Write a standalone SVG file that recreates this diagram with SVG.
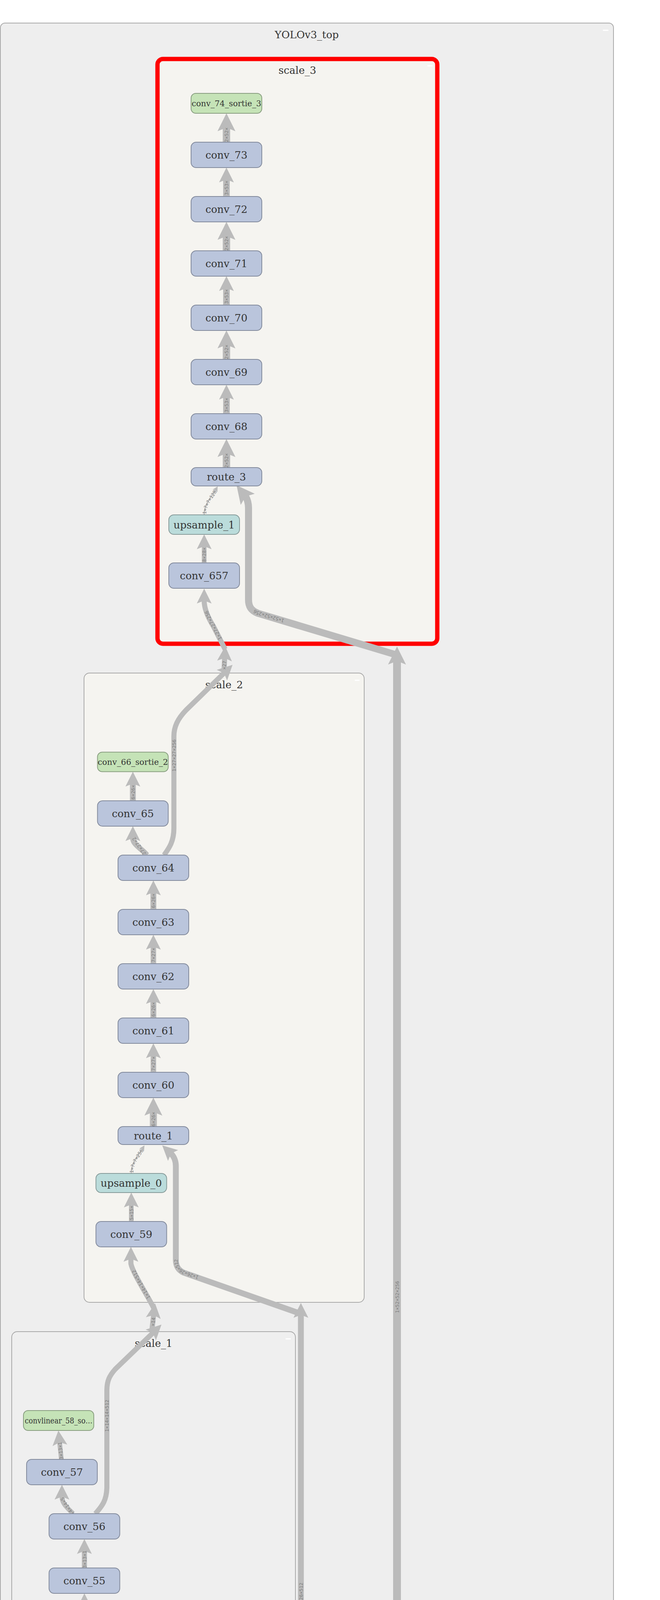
<svg xmlns="http://www.w3.org/2000/svg" width="1689" height="5225" viewBox="0 0 1689 5225">
<style>
.bg{fill:#ffffff}
.cl{fill:#eeeeee;stroke:#aaaaaa;stroke-width:2}
.s3{fill:#f5f4f0;stroke:#ff0000;stroke-width:11}
.s2{fill:#f5f4f0;stroke:#aaaaaa;stroke-width:2}
.s1{fill:#efefef;stroke:#aaaaaa;stroke-width:2}
.btn{fill:#ffffff}
.conv{fill:#bac5dc;stroke:#838b9d;stroke-width:2}
.out{fill:#c5e3b7;stroke:#899e80;stroke-width:2}
.up{fill:#bbdcdb;stroke:#879b9a;stroke-width:2}
.io{fill:#efefef;stroke:#aaaaaa;stroke-width:2}
.t{font-family:"DejaVu Serif","Liberation Serif",serif;font-size:26px;fill:#333333;text-anchor:middle}
.ts{font-family:"DejaVu Serif","Liberation Serif",serif;font-size:19.5px;fill:#333333;text-anchor:middle}
.e{fill:none;stroke:#bbbbbb;stroke-linecap:butt;stroke-linejoin:round}
.el{font-family:"DejaVu Sans Mono","Liberation Mono",monospace;font-size:12.4px;fill:#808080;text-anchor:middle;dominant-baseline:central}
</style>
<defs>
<marker id="aL" viewBox="0 0 10 10" refX="2" refY="5" markerWidth="46" markerHeight="46" markerUnits="userSpaceOnUse" orient="auto"><path d="M10,5 L0,0 L2,5 L0,10 Z" fill="#bbbbbb"/></marker>
<marker id="aM" viewBox="0 0 10 10" refX="2" refY="5" markerWidth="38" markerHeight="38" markerUnits="userSpaceOnUse" orient="auto"><path d="M10,5 L0,0 L2,5 L0,10 Z" fill="#bbbbbb"/></marker>
<marker id="aS" viewBox="0 0 10 10" refX="2" refY="5" markerWidth="14" markerHeight="14" markerUnits="userSpaceOnUse" orient="auto"><path d="M10,5 L0,0 L2,5 L0,10 Z" fill="#bbbbbb"/></marker>
</defs>
<rect class="bg" x="0" y="0" width="1689" height="5225"/>

<g id="YOLOv3_top">
<rect class="cl" x="1" y="59" width="1569" height="4730" rx="12"/>
<rect class="btn" x="1543" y="76" width="14" height="3"/>
<text class="t" x="785" y="98">YOLOv3_top</text>
</g>
<g id="scale_3">
<rect class="s3" x="403" y="151" width="716" height="1497" rx="14"/>
<rect class="btn" x="1094" y="167" width="13" height="3"/>
<text class="t" x="761" y="189">scale_3</text>
</g>
<g id="scale_2">
<rect class="s2" x="215" y="1723" width="717" height="1611" rx="14"/>
<rect class="btn" x="908" y="1740" width="12" height="3"/>
<text class="t" x="573.5" y="1762">scale_2</text>
</g>
<g id="scale_1">
<rect class="s1" x="30" y="3409" width="726" height="1228" rx="14"/>
<rect class="btn" x="731" y="3426" width="13" height="3"/>
<text class="t" x="393" y="3448">scale_1</text>
</g>

<g id="connectors">
<!-- scale_3 chain -->
<path class="e" stroke-width="19" marker-end="url(#aL)" d="M579.5,1197 V1160.8"/>
<path class="e" stroke-width="17" marker-end="url(#aM)" d="M579.5,1059 V1015.4"/>
<path class="e" stroke-width="19" marker-end="url(#aL)" d="M579.5,920 V882.8"/>
<path class="e" stroke-width="17" marker-end="url(#aM)" d="M579.5,781 V737.4"/>
<path class="e" stroke-width="19" marker-end="url(#aL)" d="M579.5,642 V604.8"/>
<path class="e" stroke-width="17" marker-end="url(#aM)" d="M579.5,503 V459.4"/>
<path class="e" stroke-width="19" marker-end="url(#aL)" d="M579.5,364 V326.8"/>
<path class="e" stroke-width="12" marker-end="url(#aM)" d="M522.5,1441 V1398.4"/>
<path id="pU1" class="e" stroke-width="3" marker-end="url(#aS)" d="M522.5,1318 C522.5,1290 541.5,1272 551.5,1254.7"/>
<!-- scale_2 chain -->
<path class="e" stroke-width="15" marker-end="url(#aM)" d="M340,2050 V2006"/>
<path class="e" stroke-width="14" marker-end="url(#aM)" d="M376,2189 C362,2172 340,2162 340,2145.4"/>
<path class="e" stroke-width="15" marker-end="url(#aM)" d="M392.5,2328 V2284.4"/>
<path class="e" stroke-width="14" marker-end="url(#aM)" d="M392.5,2467 V2423.4"/>
<path class="e" stroke-width="15" marker-end="url(#aM)" d="M392.5,2606 V2562.4"/>
<path class="e" stroke-width="14" marker-end="url(#aM)" d="M392.5,2745 V2701.4"/>
<path class="e" stroke-width="18" marker-end="url(#aL)" d="M392.5,2884 V2846.8"/>
<path class="e" stroke-width="12" marker-end="url(#aM)" d="M336,3127 V3083.4"/>
<path id="pU0" class="e" stroke-width="3" marker-end="url(#aS)" d="M336,3004 C336,2976 354,2958 363.9,2941.7"/>
<!-- scale_1 chain -->
<path class="e" stroke-width="12" marker-end="url(#aM)" d="M157,3736 L152.5,3692.4"/>
<path class="e" stroke-width="12" marker-end="url(#aM)" d="M187,3875 C170,3858 158.5,3848 158.5,3831.4"/>
<path class="e" stroke-width="13" marker-end="url(#aM)" d="M216,4014 V3970.4"/>
<path class="e" stroke-width="12" marker-end="url(#aM)" d="M216,4153 V4109.4"/>
<path class="e" stroke-width="13" marker-end="url(#aM)" d="M216,4292 V4248.4"/>
<path class="e" stroke-width="12" marker-end="url(#aM)" d="M216,4431 V4387.4"/>
<!-- scale_2 to scale_3 (conv_64 -> conv_657) -->
<path id="pE1" class="e" stroke-width="13" marker-end="url(#aM)" d="M420,2189 C432,2172 445,2155 445,2120 L445,1885 C445,1860 455,1840 476,1818 L573.3,1723.2"/>
<path class="e" stroke-width="13" marker-end="url(#aM)" d="M573,1722 L574.9,1684.6"/>
<path id="pE3" class="e" stroke-width="13" marker-end="url(#aM)" d="M576,1662 L546,1603 Q522.5,1565 522.5,1537.4"/>
<!-- scale_1 to scale_2 (conv_56 -> conv_59) -->
<path id="pD1" class="e" stroke-width="13" marker-end="url(#aM)" d="M244,3875 C262,3855 273.5,3840 273.5,3805 L273.5,3560 C273.5,3535 280,3522 295,3505 L391.3,3412.2"/>
<path class="e" stroke-width="13" marker-end="url(#aM)" d="M389,3402 L393.2,3366.7"/>
<path id="pD3" class="e" stroke-width="13" marker-end="url(#aM)" d="M395,3352 C380,3320 340,3260 335,3235 L335,3222.4"/>
<!-- image / Darknet -->
<path class="e" stroke-width="18" marker-end="url(#aL)" d="M784.5,5119 V5080.8"/>
<path class="e" stroke-width="20" marker-end="url(#aL)" d="M784.5,4864 V4823.8"/>
<!-- Darknet -> route_3 -->
<path id="pA1" class="e" stroke-width="20" marker-end="url(#aL)" d="M790,4818 L985,4717 C1008,4704 1016,4690 1016,4660 L1016,1692.1"/>
<path id="pA2" class="e" stroke-width="18" marker-end="url(#aL)" d="M1013,1676 L660,1570 C642,1563 636,1552 636,1535 L636,1300 C636,1290 633,1277 628.3,1271.1"/>
<!-- Darknet -> route_1 -->
<path id="pB1" class="e" stroke-width="15" marker-end="url(#aM)" d="M784.5,4818 L786,4777 C783,4720 770,4690 770,4640 L770,3366"/>
<path id="pB2" class="e" stroke-width="15" marker-end="url(#aM)" d="M766,3362 L470,3258 C455,3251 450,3240 450,3225 L450,2985 C450,2972 445,2960 437.4,2952.9"/>
<!-- Darknet -> conv_52 -->
<path id="pC1" class="e" stroke-width="15" marker-end="url(#aM)" d="M783,4820 C760,4815 720,4808 700,4802 L462,4736 C410,4718 391,4705 391,4685 L391,4669.4"/>
<path id="pC2" class="e" stroke-width="15" marker-end="url(#aM)" d="M390,4664 L245,4580 C222,4566 215,4555 215,4540 L215,4526.4"/>
</g>

<g id="edge-labels">
<text class="el" transform="translate(579.5,1179) rotate(-90)">2×52×</text>
<text class="el" transform="translate(579.5,1037) rotate(-90)">3×53×</text>
<text class="el" transform="translate(579.5,901) rotate(-90)">2×52×</text>
<text class="el" transform="translate(579.5,759) rotate(-90)">3×53×</text>
<text class="el" transform="translate(579.5,623) rotate(-90)">2×52×</text>
<text class="el" transform="translate(579.5,481) rotate(-90)">3×53×</text>
<text class="el" transform="translate(579.5,345) rotate(-90)">2×52×</text>
<text class="el" transform="translate(522.5,1420) rotate(-90)">8×28×</text>
<text class="el" transform="translate(340,2028) rotate(-90)">6×26×</text>
<text class="el" transform="translate(356,2166) rotate(-124)">27×27×2</text>
<text class="el" transform="translate(392.5,2306) rotate(-90)">6×26×</text>
<text class="el" transform="translate(392.5,2445) rotate(-90)">7×27×</text>
<text class="el" transform="translate(392.5,2584) rotate(-90)">6×26×</text>
<text class="el" transform="translate(392.5,2723) rotate(-90)">7×27×</text>
<text class="el" transform="translate(392.5,2865) rotate(-90)">6×26×</text>
<text class="el" transform="translate(336,3105) rotate(-90)">5×15×</text>
<text class="el" transform="translate(155,3714) rotate(-96)">3×13×1</text>
<text class="el" transform="translate(172,3856) rotate(-123)">14×14×5</text>
<text class="el" transform="translate(216,3992) rotate(-90)">3×13×1</text>
<text class="el" transform="translate(216,4131) rotate(-90)">4×14×</text>
<text class="el" transform="translate(216,4270) rotate(-90)">3×13×1</text>
<text class="el" transform="translate(216,4409) rotate(-90)">4×14×</text>
<text class="el" transform="translate(574,1703) rotate(-87)">×27</text>
<text class="el" transform="translate(392,3384) rotate(-84)">×14</text>
<text class="el" transform="translate(784.5,4845) rotate(-90)">tens</text>
<text class="el" transform="translate(784.5,5100) rotate(-90)">16×41</text>
<text class="el"><textPath href="#pU1" startOffset="50%">1×?×?×128</textPath></text>
<text class="el"><textPath href="#pU0" startOffset="50%">1×?×?×256</textPath></text>
<text class="el"><textPath href="#pE1" startOffset="50%">1×27×27×256</textPath></text>
<text class="el"><textPath href="#pE3" startOffset="50%">1×27×27×256</textPath></text>
<text class="el"><textPath href="#pD1" startOffset="50%">1×14×14×512</textPath></text>
<text class="el"><textPath href="#pD3" startOffset="50%">1×14×14×512</textPath></text>
<text class="el"><textPath href="#pA1" startOffset="50%">1×52×52×256</textPath></text>
<text class="el"><textPath href="#pA2" startOffset="50%">1×52×52×256</textPath></text>
<text class="el"><textPath href="#pB1" startOffset="50%">1×26×26×512</textPath></text>
<text class="el"><textPath href="#pB2" startOffset="50%">1×26×26×512</textPath></text>
<text class="el"><textPath href="#pC1" startOffset="50%">1×13×13×1024</textPath></text>
<text class="el"><textPath href="#pC2" startOffset="50%">1×13×13×1024</textPath></text>
</g>

<g id="conv_74_sortie_3"><rect class="out" x="489" y="239" width="181" height="51" rx="12"/><text class="ts" x="579.5" y="272" textLength="178" lengthAdjust="spacingAndGlyphs">conv_74_sortie_3</text></g>
<g id="conv_73"><rect class="conv" x="489" y="364" width="181" height="65" rx="13"/><text class="t" x="579.5" y="406">conv_73</text></g>
<g id="conv_72"><rect class="conv" x="489" y="503" width="181" height="65" rx="13"/><text class="t" x="579.5" y="545">conv_72</text></g>
<g id="conv_71"><rect class="conv" x="489" y="642" width="181" height="65" rx="13"/><text class="t" x="579.5" y="684">conv_71</text></g>
<g id="conv_70"><rect class="conv" x="489" y="781" width="181" height="65" rx="13"/><text class="t" x="579.5" y="823">conv_70</text></g>
<g id="conv_69"><rect class="conv" x="489" y="920" width="181" height="65" rx="13"/><text class="t" x="579.5" y="962">conv_69</text></g>
<g id="conv_68"><rect class="conv" x="489" y="1059" width="181" height="65" rx="13"/><text class="t" x="579.5" y="1101">conv_68</text></g>
<g id="route_3"><rect class="conv" x="489" y="1197" width="181" height="47" rx="13"/><text class="t" x="579.5" y="1230">route_3</text></g>
<g id="upsample_1"><rect class="up" x="432" y="1318" width="181" height="50" rx="13"/><text class="t" x="522.5" y="1352.5">upsample_1</text></g>
<g id="conv_657"><rect class="conv" x="432" y="1441" width="181" height="65" rx="13"/><text class="t" x="522.5" y="1483">conv_657</text></g>

<g id="conv_66_sortie_2"><rect class="out" x="249.5" y="1925.5" width="181" height="50" rx="12"/><text class="ts" x="340" y="1958" textLength="180" lengthAdjust="spacingAndGlyphs">conv_66_sortie_2</text></g>
<g id="conv_65"><rect class="conv" x="249.5" y="2050" width="181" height="65" rx="13"/><text class="t" x="340" y="2092">conv_65</text></g>
<g id="conv_64"><rect class="conv" x="302" y="2189" width="181" height="65" rx="13"/><text class="t" x="392.5" y="2231">conv_64</text></g>
<g id="conv_63"><rect class="conv" x="302" y="2328" width="181" height="65" rx="13"/><text class="t" x="392.5" y="2370">conv_63</text></g>
<g id="conv_62"><rect class="conv" x="302" y="2467" width="181" height="65" rx="13"/><text class="t" x="392.5" y="2509">conv_62</text></g>
<g id="conv_61"><rect class="conv" x="302" y="2606" width="181" height="65" rx="13"/><text class="t" x="392.5" y="2648">conv_61</text></g>
<g id="conv_60"><rect class="conv" x="302" y="2745" width="181" height="65" rx="13"/><text class="t" x="392.5" y="2787">conv_60</text></g>
<g id="route_1"><rect class="conv" x="302" y="2884" width="181" height="46" rx="13"/><text class="t" x="392.5" y="2916.5">route_1</text></g>
<g id="upsample_0"><rect class="up" x="245.5" y="3004" width="181" height="49" rx="13"/><text class="t" x="336" y="3038">upsample_0</text></g>
<g id="conv_59"><rect class="conv" x="245.5" y="3127" width="181" height="65" rx="13"/><text class="t" x="336" y="3169">conv_59</text></g>

<g id="convlinear_58_sortie_1"><rect class="out" x="60" y="3611" width="180" height="51" rx="12"/><text class="ts" x="150" y="3643.5" textLength="173" lengthAdjust="spacingAndGlyphs">convlinear_58_so…</text></g>
<g id="conv_57"><rect class="conv" x="68" y="3736" width="181" height="65" rx="13"/><text class="t" x="158.5" y="3778">conv_57</text></g>
<g id="conv_56"><rect class="conv" x="125.5" y="3875" width="181" height="65" rx="13"/><text class="t" x="216" y="3917">conv_56</text></g>
<g id="conv_55"><rect class="conv" x="125.5" y="4014" width="181" height="65" rx="13"/><text class="t" x="216" y="4056">conv_55</text></g>
<g id="conv_54"><rect class="conv" x="125.5" y="4153" width="181" height="65" rx="13"/><text class="t" x="216" y="4195">conv_54</text></g>
<g id="conv_53"><rect class="conv" x="125.5" y="4292" width="181" height="65" rx="13"/><text class="t" x="216" y="4334">conv_53</text></g>
<g id="conv_52"><rect class="conv" x="125.5" y="4431" width="181" height="65" rx="13"/><text class="t" x="216" y="4473">conv_52</text></g>

<g id="Darknet-52"><rect class="io" x="694" y="4864" width="181" height="180" rx="14"/><text class="t" x="784.5" y="4963.5">Darknet-52</text></g>
<g id="image"><rect class="io" x="694" y="5119" width="181" height="46" rx="13"/><text class="t" x="784.5" y="5151.5">image</text></g>
</svg>
